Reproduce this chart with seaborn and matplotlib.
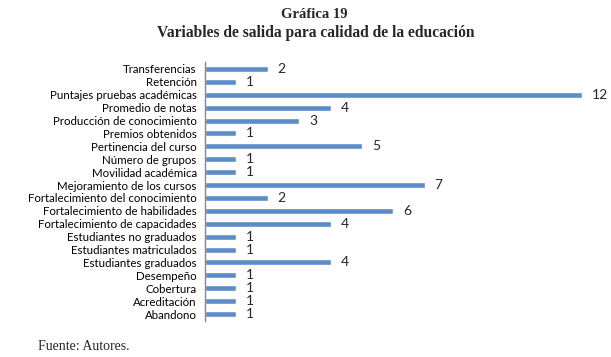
import matplotlib
matplotlib.use("Agg")
import matplotlib.pyplot as plt
import seaborn as sns
import pandas as pd

categorias = [
    "Transferencias", "Retención", "Puntajes pruebas académicas", "Promedio de notas",
    "Producción de conocimiento", "Premios obtenidos", "Pertinencia del curso",
    "Número de grupos", "Movilidad académica", "Mejoramiento de los cursos",
    "Fortalecimiento del conocimiento", "Fortalecimiento de habilidades",
    "Fortalecimiento de capacidades", "Estudiantes no graduados",
    "Estudiantes matriculados", "Estudiantes graduados", "Desempeño",
    "Cobertura", "Acreditación", "Abandono",
]
valores = [2, 1, 12, 4, 3, 1, 5, 1, 1, 7, 2, 6, 4, 1, 1, 4, 1, 1, 1, 1]

titulo = "Gráfica 19"
subtitulo = "Variables de salida para calidad de la educación"
fuente = "Fuente: Autores."

df = pd.DataFrame({"categoria": categorias, "valor": valores})

sns.set_style("white")
plt.rcParams["font.family"] = ["Lato", "DejaVu Sans"]

fig = plt.figure(figsize=(6.11, 3.57), dpi=100)
ax = fig.add_axes([205 / 611, (357 - 320.5) / 357, 387 / 611, 258 / 357])

sns.barplot(data=df, y="categoria", x="valor", orient="h", color="#5B8CC6",
            saturation=1, width=0.47, ax=ax)

ax.set_xlim(0, 387 / 31.4)
ax.set_xlabel("")
ax.set_ylabel("")
ax.set_xticks([])
ax.tick_params(axis="y", length=0, pad=6, labelsize=8.3, colors="#000000")
for s in ["top", "right", "bottom"]:
    ax.spines[s].set_visible(False)
ax.spines["left"].set_color("#888888")
ax.spines["left"].set_linewidth(1)

for c in ax.containers:
    ax.bar_label(c, labels=[str(v) for v in valores], padding=7, fontsize=10)

fig.text(314 / 611, 1 - 15 / 357, titulo, ha="center", va="center",
         family="Liberation Serif", fontweight="bold", fontsize=10.5)
fig.text(316 / 611, 1 - 33 / 357, subtitulo, ha="center", va="center",
         family="Liberation Serif", fontweight="bold", fontsize=11.2)
fig.text(38 / 611, 1 - 346 / 357, fuente, ha="left", va="center",
         family="Liberation Serif", fontsize=10)

fig.savefig("out.png", dpi=100)
